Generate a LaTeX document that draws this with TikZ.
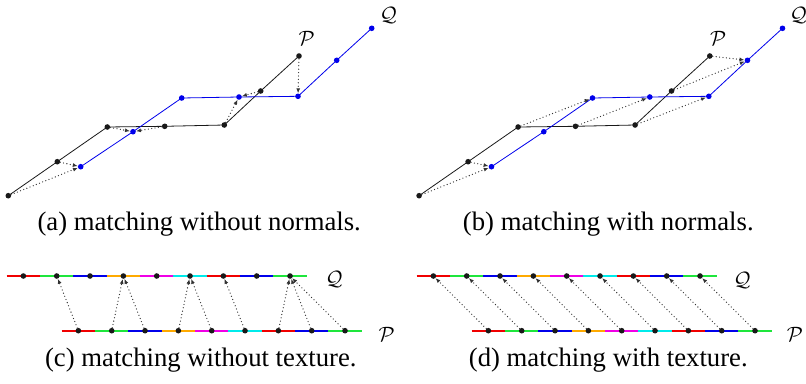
\documentclass[tikz,border=0pt]{standalone}
\usepackage{fontspec}
\setmainfont{Liberation Serif}
\newfontfamily\capfont{Liberation Serif}
\usetikzlibrary{arrows.meta,calc}
\definecolor{cred}{RGB}{240,0,0}
\definecolor{cgreen}{RGB}{30,230,60}
\definecolor{cblue}{RGB}{0,0,235}
\definecolor{corange}{RGB}{255,170,0}
\definecolor{cmagenta}{RGB}{240,0,230}
\definecolor{ccyan}{RGB}{0,235,235}
\definecolor{arrgray}{RGB}{50,50,50}
\definecolor{dotblack}{RGB}{25,25,25}
\tikzset{
  pdot/.style={circle,fill=dotblack,inner sep=0pt,minimum size=5.6pt},
  qdot/.style={circle,fill=cblue,inner sep=0pt,minimum size=5.6pt},
  pline/.style={draw=dotblack,line width=0.8pt},
  qline/.style={draw=cblue,line width=0.8pt},
  seg/.style={line width=2pt},
  match/.style={draw=arrgray,line width=1.3pt,line cap=round,dash pattern=on 0pt off 3.4pt,
    -{Latex[length=5pt,width=4pt]}},
  caption/.style={font=\capfont\fontsize{26.7}{30}\selectfont,anchor=base},
  curvelabel/.style={font=\fontsize{20}{24}\selectfont}
}
\begin{document}
\begin{tikzpicture}[x=1pt,y=-1pt]
\useasboundingbox (0,0) rectangle (806,383);
% ---------- panel (a) and (b) ----------
\foreach \pfx/\dx in {a/0,b/410.8}{
  \begin{scope}[xshift=\dx pt]
  \coordinate (\pfx p0) at (8.3,195.7);
  \coordinate (\pfx p1) at (57.3,161.7);
  \coordinate (\pfx p2) at (107.3,127);
  \coordinate (\pfx p3) at (164.7,126.3);
  \coordinate (\pfx p4) at (224.3,125);
  \coordinate (\pfx p5) at (260.7,91);
  \coordinate (\pfx p6) at (299,56);
  \coordinate (\pfx q0) at (80.7,166.7);
  \coordinate (\pfx q1) at (133,131.7);
  \coordinate (\pfx q2) at (181.7,98);
  \coordinate (\pfx q3) at (239,97);
  \coordinate (\pfx q4) at (298,96.3);
  \coordinate (\pfx q5) at (336.7,60.3);
  \coordinate (\pfx q6) at (371.7,28.3);
  \end{scope}
  \draw[pline] (\pfx p0) -- (\pfx p1) -- (\pfx p2) -- (\pfx p3) -- (\pfx p4) -- (\pfx p5) -- (\pfx p6);
  \draw[qline] (\pfx q0) -- (\pfx q1) -- (\pfx q2) -- (\pfx q3) -- (\pfx q4) -- (\pfx q5) -- (\pfx q6);
  \foreach \i in {0,...,6}{
    \node[pdot] (\pfx P\i) at (\pfx p\i) {};
    \node[qdot] (\pfx Q\i) at (\pfx q\i) {};
  }
}
\node[curvelabel] (aPl) at (306.7,38.3) {$\mathcal{P}$};
\node[curvelabel] (aQl) at (388.3,15) {$\mathcal{Q}$};
\node[curvelabel] (bPl) at (718.3,38.3) {$\mathcal{P}$};
\node[curvelabel] (bQl) at (798.3,15) {$\mathcal{Q}$};
% matches (a)
\foreach \s/\t in {0/0,1/0,2/1,3/1,4/3,5/3,6/4}
  \draw[match] (aP\s) -- (aQ\t);
% matches (b)
\foreach \s/\t in {0/0,1/0,2/2,3/3,4/4,5/5,6/5}
  \draw[match] (bP\s) -- (bQ\t);
% ---------- panel (c) and (d) ----------
\foreach \pfx/\dx in {c/0,d/410}{
  \foreach \k/\col in {0/cred,1/cgreen,2/cblue,3/corange,4/cmagenta,5/ccyan,6/cred,7/cblue,8/cgreen}{
    \pgfmathsetmacro{\qa}{6.7+33.333*\k+\dx}
    \pgfmathsetmacro{\qb}{6.7+33.333*(\k+1)+\dx}
    \pgfmathsetmacro{\pa}{61.7+33.333*\k+\dx}
    \pgfmathsetmacro{\pb}{61.7+33.333*(\k+1)+\dx}
    \coordinate (\pfx qs\k) at (\qa,276);
    \coordinate (\pfx qe\k) at (\qb,276);
    \coordinate (\pfx ps\k) at (\pa,330.7);
    \coordinate (\pfx pe\k) at (\pb,330.7);
    \draw[seg,\col] (\pfx qs\k) -- (\pfx qe\k);
    \draw[seg,\col] (\pfx ps\k) -- (\pfx pe\k);
  }
  \foreach \k in {0,...,8}{
    \node[pdot] (\pfx Q\k) at ($(\pfx qs\k)!0.5!(\pfx qe\k)$) {};
    \node[pdot] (\pfx P\k) at ($(\pfx ps\k)!0.5!(\pfx pe\k)$) {};
  }
}
\node[curvelabel] (cQl) at (334,279) {$\mathcal{Q}$};
\node[curvelabel] (cPl) at (386.7,334) {$\mathcal{P}$};
\node[curvelabel] (dQl) at (742,280) {$\mathcal{Q}$};
\node[curvelabel] (dPl) at (795,334) {$\mathcal{P}$};
\foreach \s/\t in {0/1,1/3,2/3,3/5,4/5,5/6,6/8,7/8,8/8}
  \draw[match] (cP\s) -- (cQ\t);
\foreach \s in {0,...,8}
  \draw[match] (dP\s) -- (dQ\s);
% ---------- captions ----------
\node[caption] (capa) at (199.2,230) {(a) matching without normals.};
\node[caption] (capb) at (608.3,230) {(b) matching with normals.};
\node[caption] (capc) at (200.8,366.5) {(c) matching without texture.};
\node[caption] (capd) at (608.3,366.5) {(d) matching with texture.};
\end{tikzpicture}
\end{document}
